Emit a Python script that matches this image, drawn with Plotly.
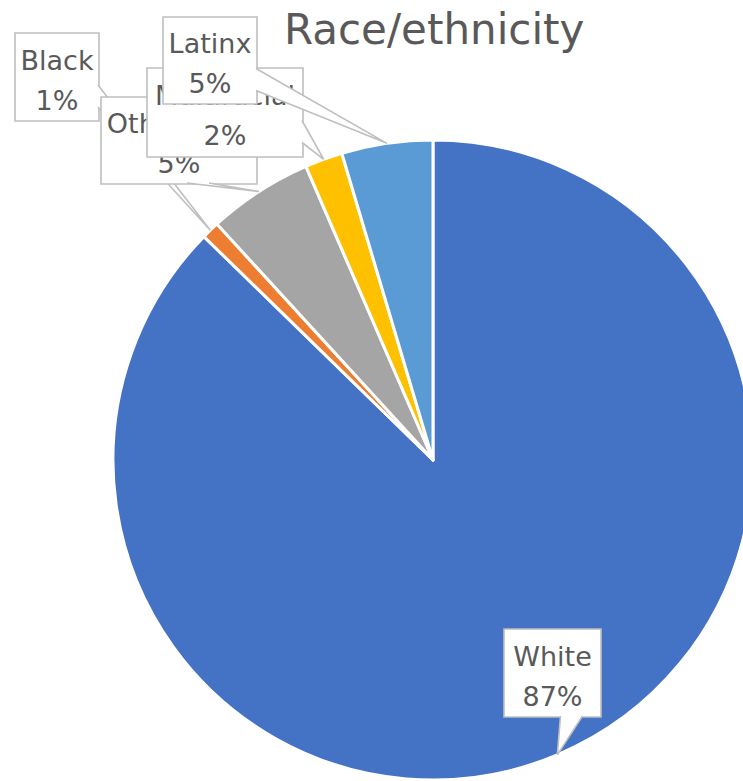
import math
import plotly.graph_objects as go

# ---------------- data ----------------
categories = ["White", "Black", "Other race", "Multiracial", "Latinx"]
values = [87.3, 0.9, 5.3, 1.9, 4.6]
colors = ["#4472C4", "#ED7D31", "#A5A5A5", "#FFC000", "#5B9BD5"]
title_text = "Race/ethnicity"

# ---------------- layout helpers ----------------
# canvas slightly wider than the window so the pie is clipped on the right
W, H = 753, 781
dom_x = [113 / W, 1.0]
dom_y = [1 / H, 641 / H]
FONT = "DejaVu Sans"
TXT = "#595959"
BORDER = "#BFBFBF"

# label callout boxes in pixels (x0, y0, x1, y1); drawn in this order
label_order = ["Black", "Other race", "Multiracial", "Latinx", "White"]
label_boxes = {
    "Black": (15, 33, 99, 121),
    "Other race": (101, 97, 257, 184),
    "Multiracial": (147, 68, 303, 157),
    "Latinx": (163, 17, 257, 104),
    "White": (504, 629, 601, 717),
}


def px(x):
    return x / W


def py(y):
    return 1 - y / H


total = sum(values)
pct = {c: f"{round(v / total * 100)}%" for c, v in zip(categories, values)}

# pie geometry (pixels) derived from domain
cx = (dom_x[0] + dom_x[1]) / 2 * W
cy = H - (dom_y[0] + dom_y[1]) / 2 * H
r = min((dom_x[1] - dom_x[0]) * W, (dom_y[1] - dom_y[0]) * H) / 2

apex = {}
cum = 0.0
for c, v in zip(categories, values):
    th = 2 * math.pi * (cum + v / 2) / total
    apex[c] = (cx + r * math.sin(th), cy - r * math.cos(th))
    cum += v

fig = go.Figure()
fig.add_trace(go.Pie(
    labels=categories,
    values=values,
    sort=False,
    direction="clockwise",
    rotation=0,
    marker=dict(colors=colors, line=dict(color="white", width=3)),
    textinfo="none",
    hoverinfo="label+percent",
    showlegend=False,
    domain=dict(x=dom_x, y=dom_y),
))

shapes = []
for c in label_order:
    x0, y0, x1, y1 = label_boxes[c]
    bx, by = (x0 + x1) / 2, (y0 + y1) / 2
    hw, hh = (x1 - x0) / 2, (y1 - y0) / 2
    ax, ay = apex[c]
    dx, dy = ax - bx, ay - by
    # box
    shapes.append(dict(type="rect", xref="paper", yref="paper",
                       x0=px(x0), x1=px(x1), y0=py(y1), y1=py(y0),
                       fillcolor="white", line=dict(color=BORDER, width=1.6),
                       layer="above"))
    # tail
    if abs(dx) / hw > abs(dy) / hh:
        ex = x1 - 1 if dx > 0 else x0 + 1
        s = 1 if dy >= -15 else -1
        b1 = (ex, by + s * 8)
        b2 = (ex, by + s * 30)
    else:
        ey = y1 - 1 if dy > 0 else y0 + 1
        s = 1 if dx >= -15 else -1
        b1 = (bx + s * 8, ey)
        b2 = (bx + s * 30, ey)
    path = (f"M {px(b1[0])},{py(b1[1])} L {px(ax)},{py(ay)} "
            f"L {px(b2[0])},{py(b2[1])}")
    shapes.append(dict(type="path", xref="paper", yref="paper", path=path,
                       fillcolor="white", line=dict(color=BORDER, width=1.6),
                       layer="above"))
    # text lines
    for txt, off in ((c, -20), (pct[c], 20)):
        ty = by + off + 1
        shapes.append(dict(type="rect", xref="paper", yref="paper",
                           x0=px(bx - 0.5), x1=px(bx + 0.5),
                           y0=py(ty + 0.5), y1=py(ty - 0.5),
                           line=dict(width=0), fillcolor="rgba(0,0,0,0)",
                           layer="above",
                           label=dict(text=txt, textposition="middle center",
                                      font=dict(family=FONT, size=27, color=TXT),
                                      padding=0)))

fig.update_layout(
    width=W, height=H,
    margin=dict(l=0, r=0, t=0, b=0),
    paper_bgcolor="white",
    plot_bgcolor="white",
    shapes=shapes,
    annotations=[dict(text=title_text, x=px(434), y=py(30), xref="paper",
                      yref="paper", xanchor="center", yanchor="middle",
                      showarrow=False,
                      font=dict(family=FONT, size=42, color=TXT))],
)

fig.write_html("out.html",
               config=dict(displayModeBar=False),
               post_script="document.body.style.margin='0px';"
                           "document.body.style.overflow='hidden';")
